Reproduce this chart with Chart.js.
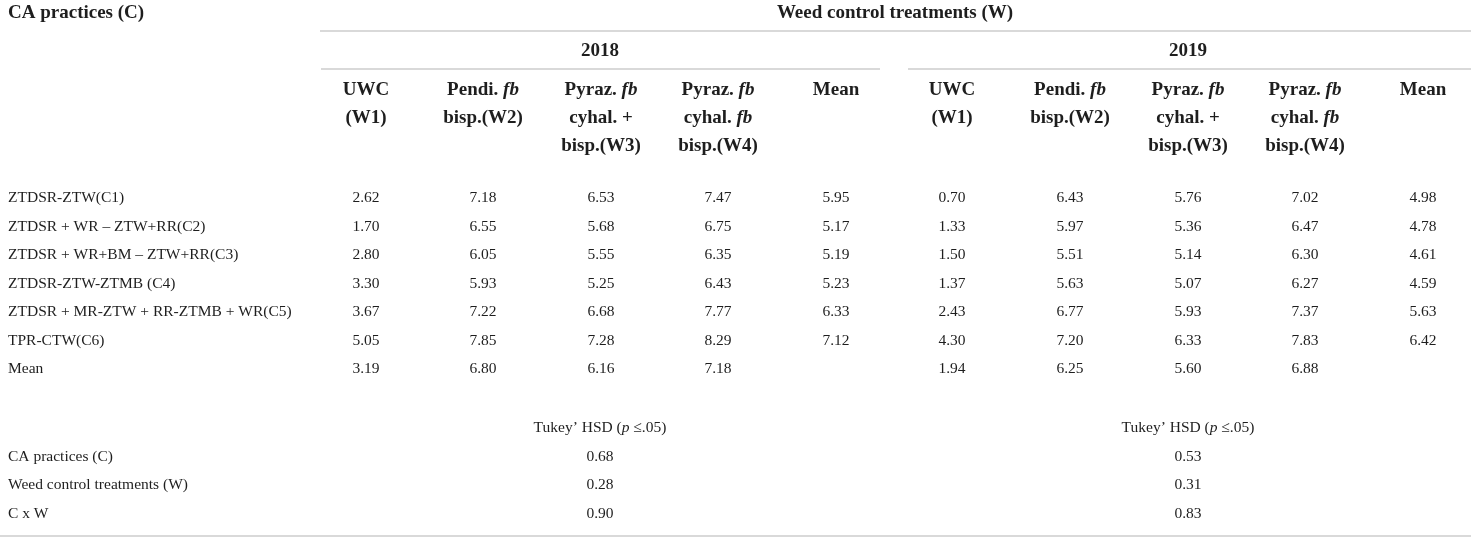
<!DOCTYPE html>
<html>
<head>
<meta charset="utf-8">
<script src="https://cdn.jsdelivr.net/npm/chart.js@4.4.1/dist/chart.umd.min.js"></script>
<style>
  html, body { margin: 0; padding: 0; background: #ffffff; }
  #wrap { width: 1471px; height: 542px; position: relative; }
</style>
</head>
<body>
<div id="wrap"><canvas id="c"></canvas></div>
<script>
// ---------------- DATA ----------------
const categories = [
  "ZTDSR-ZTW(C1)",
  "ZTDSR + WR \u2013 ZTW+RR(C2)",
  "ZTDSR + WR+BM \u2013 ZTW+RR(C3)",
  "ZTDSR-ZTW-ZTMB (C4)",
  "ZTDSR + MR-ZTW + RR-ZTMB + WR(C5)",
  "TPR-CTW(C6)",
  "Mean"
];
const years = ["2018", "2019"];
const treatmentHeaders = [
  ["UWC", "(W1)"],
  ["Pendi. *fb*", "bisp.(W2)"],
  ["Pyraz. *fb*", "cyhal. +", "bisp.(W3)"],
  ["Pyraz. *fb*", "cyhal. *fb*", "bisp.(W4)"],
  ["Mean"]
];
// 2018
const w1_2018   = [2.62, 1.70, 2.80, 3.30, 3.67, 5.05, 3.19];
const w2_2018   = [7.18, 6.55, 6.05, 5.93, 7.22, 7.85, 6.80];
const w3_2018   = [6.53, 5.68, 5.55, 5.25, 6.68, 7.28, 6.16];
const w4_2018   = [7.47, 6.75, 6.35, 6.43, 7.77, 8.29, 7.18];
const mean_2018 = [5.95, 5.17, 5.19, 5.23, 6.33, 7.12, null];
// 2019
const w1_2019   = [0.70, 1.33, 1.50, 1.37, 2.43, 4.30, 1.94];
const w2_2019   = [6.43, 5.97, 5.51, 5.63, 6.77, 7.20, 6.25];
const w3_2019   = [5.76, 5.36, 5.14, 5.07, 5.93, 6.33, 5.60];
const w4_2019   = [7.02, 6.47, 6.30, 6.27, 7.37, 7.83, 6.88];
const mean_2019 = [4.98, 4.78, 4.61, 4.59, 5.63, 6.42, null];
// Tukey HSD
const hsdSources = ["CA practices (C)", "Weed control treatments (W)", "C x W"];
const hsd2018 = [0.68, 0.28, 0.90];
const hsd2019 = [0.53, 0.31, 0.83];
const titleLeft = "CA practices (C)";
const titleTop = "Weed control treatments (W)";
const hsdTitle = "Tukey\u2019 HSD (*p* \u2264.05)";

// ---------------- LAYOUT (table coordinates on hidden linear scales) ----------------
const L = {
  labelX: 8,
  colX: [[366, 483, 601, 718, 836], [952, 1070, 1188, 1305, 1423]],
  yearX: [600, 1188],
  topTitleX: 895,
  titleY: 12,
  yearY: 50,
  headY: [89, 117, 145],
  rowY0: 197, rowStep: 28.55,
  hsdTitleY: 427,
  hsdY: [456, 484, 513],
  rule1: { y: 31, x0: 320, x1: 1471 },
  rule2: [{ y: 69, x0: 321, x1: 880 }, { y: 69, x0: 908, x1: 1471 }],
  rule3: { y: 536, x0: 0, x1: 1471 }
};
const FONT = '"Liberation Serif", "Times New Roman", serif';
const TEXT = '#1e1e1e';
const RULE = '#cdcdcd';
const BODY = 15.5, HEAD = 19;

// ---------------- DATASETS ----------------
const datasets = [];
function textSet(points, texts, align, weight, size) {
  datasets.push({ type: 'scatter', data: points, texts, align, weight, size,
    pointRadius: 0, pointHoverRadius: 0, borderWidth: 0, backgroundColor: 'rgba(0,0,0,0)' });
}
function ruleSet(r) {
  datasets.push({ type: 'line', data: [{ x: r.x0, y: r.y }, { x: r.x1, y: r.y }],
    borderColor: RULE, borderWidth: 1.6, pointRadius: 0, fill: false, tension: 0 });
}
const rowY = categories.map((_, i) => L.rowY0 + i * L.rowStep);

// titles
textSet([{ x: L.labelX, y: L.titleY }], [titleLeft], 'left', 'bold', HEAD);
textSet([{ x: L.topTitleX, y: L.titleY }], [titleTop], 'center', 'bold', HEAD);
textSet(years.map((_, k) => ({ x: L.yearX[k], y: L.yearY })), years, 'center', 'bold', HEAD);
// treatment headers
years.forEach((_, k) => {
  treatmentHeaders.forEach((lines, j) => {
    textSet(lines.map((_, li) => ({ x: L.colX[k][j], y: L.headY[li] })), lines, 'center', 'bold', HEAD);
  });
});
// row labels
textSet(rowY.map(y => ({ x: L.labelX, y })), categories, 'left', 'normal', BODY);
// values
const cols = [[w1_2018, w2_2018, w3_2018, w4_2018, mean_2018], [w1_2019, w2_2019, w3_2019, w4_2019, mean_2019]];
cols.forEach((yr, k) => yr.forEach((arr, j) => {
  textSet(rowY.map(y => ({ x: L.colX[k][j], y })), arr.map(v => v == null ? null : v.toFixed(2)), 'center', 'normal', BODY);
}));
// HSD block
textSet(years.map((_, k) => ({ x: L.yearX[k], y: L.hsdTitleY })), [hsdTitle, hsdTitle], 'center', 'normal', BODY);
textSet(L.hsdY.map(y => ({ x: L.labelX, y })), hsdSources, 'left', 'normal', BODY);
textSet(L.hsdY.map(y => ({ x: L.yearX[0], y })), hsd2018.map(v => v.toFixed(2)), 'center', 'normal', BODY);
textSet(L.hsdY.map(y => ({ x: L.yearX[1], y })), hsd2019.map(v => v.toFixed(2)), 'center', 'normal', BODY);
// rules
ruleSet(L.rule1); L.rule2.forEach(ruleSet); ruleSet(L.rule3);

// ---------------- TEXT PLUGIN ----------------
function richSegments(s) {
  return s.split('*').map((t, i) => ({ t, italic: i % 2 === 1 })).filter(s => s.t.length);
}
const cellText = {
  id: 'cellText',
  afterDatasetsDraw(chart) {
    const ctx = chart.ctx;
    ctx.save();
    ctx.fillStyle = TEXT;
    ctx.textBaseline = 'alphabetic';
    chart.data.datasets.forEach((ds, di) => {
      if (!ds.texts) return;
      const meta = chart.getDatasetMeta(di);
      meta.data.forEach((el, k) => {
        const txt = ds.texts[k];
        if (txt == null) return;
        const segs = richSegments(txt);
        const fontOf = s => `${s.italic ? 'italic ' : ''}${ds.weight} ${ds.size}px ${FONT}`;
        let w = 0;
        segs.forEach(s => { ctx.font = fontOf(s); s.w = ctx.measureText(s.t).width; w += s.w; });
        let x = ds.align === 'center' ? el.x - w / 2 : (ds.align === 'right' ? el.x - w : el.x);
        const yb = el.y + ds.size * 0.33;
        segs.forEach(s => { ctx.font = fontOf(s); ctx.textAlign = 'left'; ctx.fillText(s.t, x, yb); x += s.w; });
      });
    });
    ctx.restore();
  }
};

new Chart(document.getElementById('c'), {
  data: { datasets },
  options: {
    responsive: true,
    maintainAspectRatio: false,
    animation: false,
    events: [],
    layout: { padding: 0 },
    plugins: { legend: { display: false }, tooltip: { enabled: false }, title: { display: false } },
    scales: {
      x: { type: 'linear', min: 0, max: 1471, display: false },
      y: { type: 'linear', min: 0, max: 542, reverse: true, display: false }
    }
  },
  plugins: [cellText]
});
</script>
</body>
</html>
